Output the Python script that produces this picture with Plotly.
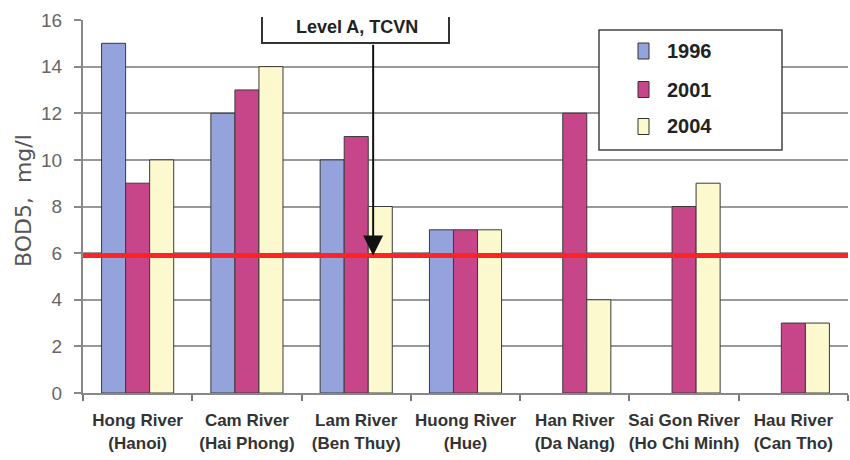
import plotly.graph_objects as go

# BOD5 concentrations (mg/l) measured on Vietnamese rivers
rivers = [
    "Hong River<br>(Hanoi)",
    "Cam River<br>(Hai Phong)",
    "Lam River<br>(Ben Thuy)",
    "Huong River<br>(Hue)",
    "Han River<br>(Da Nang)",
    "Sai Gon River<br>(Ho Chi Minh)",
    "Hau River<br>(Can Tho)",
]
years = ["1996", "2001", "2004"]
bod_1996 = [15, 12, 10, 7, None, None, None]
bod_2001 = [9, 13, 11, 7, 12, 8, 3]
bod_2004 = [10, 14, 8, 7, 4, 9, 3]
level_a_limit = 5.9          # TCVN level A standard
y_ticks = [0, 2, 4, 6, 8, 10, 12, 14, 16]

colors = ["#94a3dc", "#c7468a", "#fdf9cf"]
series = [bod_1996, bod_2001, bod_2004]

SANS = "Liberation Sans, Arial, sans-serif"

fig = go.Figure()
for name, vals, col in zip(years, series, colors):
    fig.add_trace(go.Bar(
        x=rivers, y=vals, name=name,
        marker=dict(color=col, line=dict(color="#3a3a3a", width=1)),
        showlegend=False,
    ))

# geometry of the plotting area in pixels (used for paper-anchored decorations)
W, H = 850, 460
L, R, T, B = 83, 2, 20, 67
pw, ph = W - L - R, H - T - B


def px(xp):
    return (xp - L) / pw


def py(yp):
    return (H - B - yp) / ph


shapes = []
annotations = []

# standard limit line
shapes.append(dict(type="line", xref="paper", yref="y", x0=0, x1=1,
                   y0=level_a_limit, y1=level_a_limit,
                   line=dict(color="#ff2424", width=5), layer="above"))

# callout box for the standard label (open at the top)
shapes.append(dict(type="rect", xref="paper", yref="paper",
                   x0=px(262), x1=px(449), y0=py(43), y1=py(8),
                   fillcolor="white", line=dict(width=0), layer="above"))
shapes.append(dict(type="path", xref="paper", yref="paper",
                   path=f"M {px(262)},{py(17)} L {px(262)},{py(43)} "
                        f"L {px(449)},{py(43)} L {px(449)},{py(17)}",
                   line=dict(color="#333333", width=2), layer="above"))
annotations.append(dict(xref="paper", yref="paper", x=px(357), y=py(27),
                        text="<b>Level A, TCVN</b>", showarrow=False,
                        font=dict(family=SANS, size=18, color="#222222"),
                        xanchor="center", yanchor="middle"))

# arrow pointing down to the limit line
annotations.append(dict(xref="x", yref="y", axref="x", ayref="y",
                        x=2.155, y=level_a_limit, ax=2.155, ay=15.0,
                        text="", showarrow=True, arrowhead=2,
                        arrowsize=2.0, arrowwidth=2, arrowcolor="#111111"))

# legend box
shapes.append(dict(type="rect", xref="paper", yref="paper",
                   x0=px(599), x1=px(782), y0=py(150), y1=py(30),
                   fillcolor="white", line=dict(color="#444444", width=1.5),
                   layer="above"))
legend_rows = [51, 89.5, 126.5]
for name, col, yc in zip(years, colors, legend_rows):
    shapes.append(dict(type="rect", xref="paper", yref="paper",
                       x0=px(638), x1=px(649), y0=py(yc + 8), y1=py(yc - 8),
                       fillcolor=col, line=dict(color="#333333", width=1),
                       layer="above"))
    annotations.append(dict(xref="paper", yref="paper", x=px(665), y=py(yc),
                            text=f"<b>{name}</b>", showarrow=False,
                            xanchor="left", yanchor="middle",
                            font=dict(family=SANS, size=20, color="#222222")))

# y-axis title
annotations.append(dict(xref="paper", yref="paper", x=px(23), y=py(201),
                        text="BOD5,  mg/l", showarrow=False, textangle=-90,
                        xanchor="center", yanchor="middle",
                        font=dict(family="DejaVu Sans", size=22, color="#555555")))

fig.update_layout(
    width=W, height=H,
    margin=dict(l=L, r=R, t=T, b=B, autoexpand=False),
    paper_bgcolor="white", plot_bgcolor="white",
    barmode="group", bargap=0.34, bargroupgap=0,
    shapes=shapes, annotations=annotations,
    showlegend=False,
)
fig.update_xaxes(
    type="category", tickson="boundaries", ticks="outside", ticklen=6,
    tickwidth=1.5, tickcolor="#777777", tickangle=0,
    showline=True, linecolor="#888888", linewidth=2,
    showgrid=False,
    tickfont=dict(family=SANS, size=17, color="#333333"),
    tickprefix="<b>", ticksuffix="</b>",
    ticklabelstandoff=11,
)
fig.update_yaxes(
    range=[0, 16], tickvals=y_ticks, ticks="outside", ticklen=7,
    tickwidth=1.5, tickcolor="#888888",
    showline=True, linecolor="#888888", linewidth=2,
    showgrid=True, gridcolor="#999999", gridwidth=1.5,
    zeroline=False,
    tickfont=dict(family=SANS, size=19, color="#666666"),
    ticklabelstandoff=8,
)

fig.write_html("out.html")
